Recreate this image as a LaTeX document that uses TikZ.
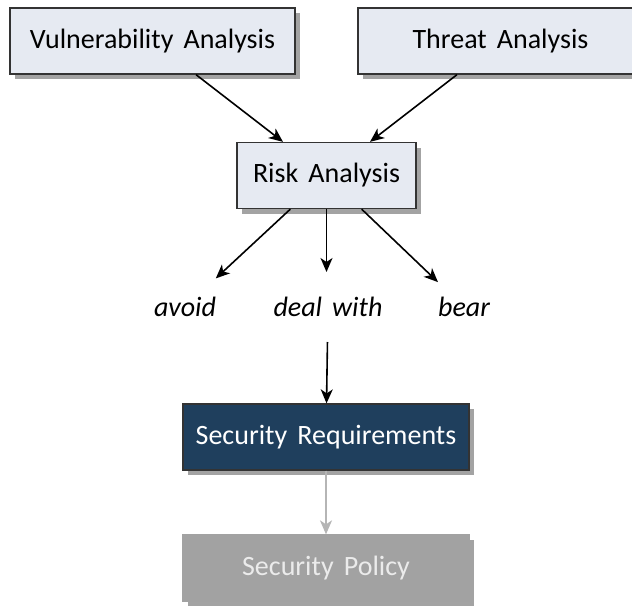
\documentclass[tikz,border=0pt]{standalone}
\usepackage{fontspec}
\setmainfont{Carlito}[WordSpace=1.6]
\usetikzlibrary{arrows.meta, shadows, calc}

\definecolor{boxfill}{HTML}{E6EAF2}
\definecolor{boxline}{HTML}{333333}
\definecolor{reqfill}{HTML}{1F3F5D}
\definecolor{polfill}{HTML}{A2A2A2}
\definecolor{shadowgray}{HTML}{A3A3A3}

\begin{document}
\begin{tikzpicture}[x=0.5pt, y=-0.5pt,
    font=\fontsize{14}{17}\selectfont,
    box/.style={rectangle, draw=boxline, fill=boxfill, line width=0.65pt,
      minimum height=33pt,
      drop shadow={shadow xshift=2.5pt, shadow yshift=-2.5pt, fill=shadowgray, opacity=1}},
    choice/.style={font=\fontsize{14}{17}\selectfont\itshape},
    arr/.style={-{Stealth[length=7pt, width=6pt, inset=2pt]}, line width=0.8pt}]
      \useasboundingbox (0,0) rectangle (632,606);
      \clip (0,0) rectangle (632,606);

      % analysis boxes
      \node[box, minimum width=142.5pt] (vuln) at (152.5,41) {Vulnerability Analysis};
      \node[box, minimum width=142.5pt] (threat) at (500.5,41) {Threat Analysis};
      \node[box, minimum width=89.5pt] (risk) at (326.5,175.5) {Risk Analysis};

      % ways of handling the risk
      \node[choice] (avoid) at (185,307) {avoid};
      \node[choice] (deal) at (328,307) {deal with};
      \node[choice] (bear) at (464,307) {bear};

      \node[box, minimum width=143pt, fill=reqfill, text=white] (req) at (326,437) {Security Requirements};
      \node[box, minimum width=143pt, draw=polfill, fill=polfill, text=white!92!black] (policy) at (326,568) {Security Policy};

      \draw[arr] (vuln) -- (risk);
      \draw[arr] (threat) -- (risk);
      \draw[arr, shorten >=21pt] (risk) -- (avoid.center);
      \draw[arr, shorten >=17.5pt] (risk.south) -- (risk.south |- deal.center);
      \draw[arr, shorten >=18pt] (risk) -- (bear.center);
      \draw[arr, shorten <=17.5pt] (deal.center) -- (req);
      \draw[arr, draw=polfill!80, fill=polfill!80] (req) -- (policy);
    \end{tikzpicture}
\end{document}
